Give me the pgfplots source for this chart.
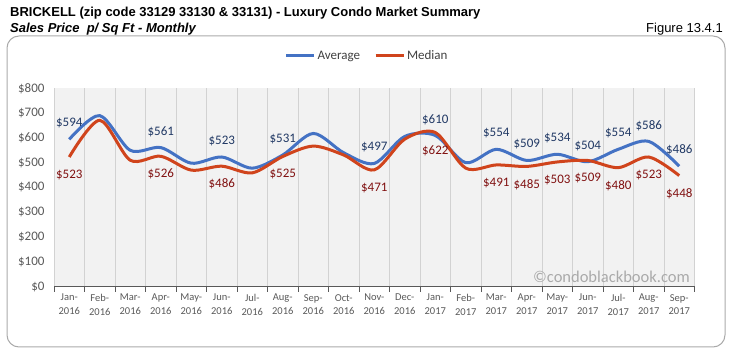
\documentclass[border=0pt]{standalone}
\usepackage{pgfplots}
\pgfplotsset{compat=1.18}
\usepackage{fontspec}
\setmainfont{Carlito}
\newfontfamily\titlefont{Liberation Sans}
\definecolor{avgc}{RGB}{68,114,196}
\definecolor{medc}{RGB}{208,68,28}
\definecolor{avgl}{RGB}{32,56,100}
\definecolor{medl}{RGB}{128,16,16}
\definecolor{tickc}{RGB}{89,89,89}
\definecolor{framec}{RGB}{170,170,170}
\definecolor{bgc}{RGB}{242,242,242}
\definecolor{gridc}{RGB}{210,210,210}
\definecolor{wmc}{RGB}{170,170,170}
\begin{document}
\begin{tikzpicture}
\path (0pt,0pt) rectangle (729pt,356pt);
\draw[framec, line width=1pt, rounded corners=12pt] (7pt,9pt) rectangle (725pt,320pt);
\node[anchor=base west, inner sep=0] at (10pt,339.3pt) {\titlefont\bfseries\fontsize{13}{15}\selectfont BRICKELL (zip code 33129 33130 \& 33131) - Luxury Condo Market Summary};
\node[anchor=base west, inner sep=0] at (10pt,323.7pt) {\titlefont\bfseries\itshape\fontsize{13}{15}\selectfont Sales Price\ \ p/ Sq Ft - Monthly};
\node[anchor=base east, inner sep=0] at (723pt,323.7pt) {\titlefont\fontsize{13}{15}\selectfont Figure 13.4.1};
\begin{axis}[
  at={(54pt,69.3pt)}, anchor=south west,
  scale only axis, width=640.5pt, height=198.4pt,
  xmin=-0.5, xmax=20.5, ymin=0, ymax=800,
  axis background/.style={fill=bgc},
  axis x line*=bottom, axis y line*=left,
  y axis line style={draw=none},
  x axis line style={color=tickc, line width=0.8pt},
  xtick={0,...,20},
  xticklabels={{Jan-\\2016},{Feb-\\2016},{Mar-\\2016},{Apr-\\2016},{May-\\2016},{Jun-\\2016},{Jul-\\2016},{Aug-\\2016},{Sep-\\2016},{Oct-\\2016},{Nov-\\2016},{Dec-\\2016},{Jan-\\2017},{Feb-\\2017},{Mar-\\2017},{Apr-\\2017},{May-\\2017},{Jun-\\2017},{Jul-\\2017},{Aug-\\2017},{Sep-\\2017}},
  major tick length=0pt,
  minor xtick={-0.5,0.5,...,20.5},
  minor tick length=5pt,
  tick align=outside,
  xminorgrids,
  minor grid style={color=gridc, line width=0.8pt},
  minor x tick style={color=tickc, line width=0.8pt},
  ytick={0,100,...,800},
  yticklabel={\$\pgfmathprintnumber{\tick}},
  /pgf/number format/assume math mode=true,
  yticklabel style={font=\fontsize{13}{14}\selectfont, text=tickc, xshift=-6pt},
  xticklabel style={font=\fontsize{10.5}{13.5}\selectfont, text=tickc, align=center, yshift=-4pt},
  legend style={at={(axis description cs:0.4887,1.163)}, anchor=center, draw=none, fill=none,
    legend columns=2, font=\fontsize{13}{14}\selectfont, text=black!75,
    /tikz/every even column/.append style={column sep=12pt},
    nodes={inner xsep=2pt}},
  legend image code/.code={\draw[#1] (0pt,0pt) -- (28pt,0pt);},
  clip=false,
]
\addplot[avgc, line width=3pt, smooth] coordinates {
(0,594) (1,690) (2,550) (3,561) (4,498) (5,523) (6,478) (7,531) (8,618) (9,540)
(10,497) (11,606) (12,610) (13,500) (14,554) (15,509) (16,534) (17,504) (18,554) (19,586) (20,486)};
\addlegendentry{Average}
\addplot[medc, line width=3pt, smooth] coordinates {
(0,523) (1,671) (2,510) (3,526) (4,470) (5,486) (6,459) (7,525) (8,567) (9,531)
(10,471) (11,595) (12,622) (13,478) (14,491) (15,485) (16,503) (17,509) (18,480) (19,523) (20,448)};
\addlegendentry{Median}
\addplot[forget plot, draw=none, point meta=y,
  nodes near coords={\$\pgfmathprintnumber{\pgfplotspointmeta}},
  every node near coord/.append style={anchor=center, yshift=16pt, text=avgl, font=\fontsize{13}{14}\selectfont}]
  coordinates {(0,594) (3,561) (5,523) (7,531) (10,497) (12,610) (14,554) (15,509) (16,534) (17,504) (18,554) (19,586) (20,486)};
\addplot[forget plot, draw=none, point meta=y,
  nodes near coords={\$\pgfmathprintnumber{\pgfplotspointmeta}},
  every node near coord/.append style={anchor=center, yshift=-18pt, text=medl, font=\fontsize{13}{14}\selectfont}]
  coordinates {(0,523) (3,526) (5,486) (7,525) (10,471) (12,622) (14,491) (15,485) (16,503) (17,509) (18,480) (19,523) (20,448)};
\end{axis}
\node[anchor=east, inner sep=0, text=wmc] at (690pt,79pt) {\fontsize{16.5}{18}\selectfont \textcopyright condoblackbook.com};
\end{tikzpicture}
\end{document}
